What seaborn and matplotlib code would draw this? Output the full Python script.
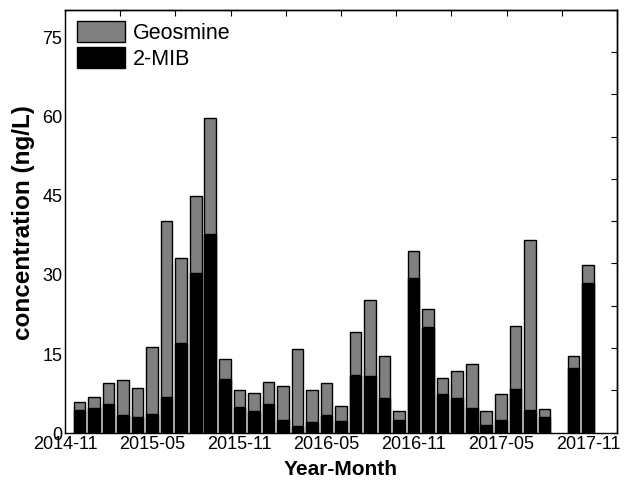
import numpy as np
import pandas as pd
import matplotlib
matplotlib.use("Agg")
import matplotlib.pyplot as plt
from matplotlib.patches import Patch
import seaborn as sns

# ---- data ----
months = ["2014-12", "2015-01", "2015-02", "2015-03", "2015-04", "2015-05",
          "2015-06", "2015-07", "2015-08", "2015-09", "2015-10", "2015-11",
          "2015-12", "2016-01", "2016-02", "2016-03", "2016-04", "2016-05",
          "2016-06", "2016-07", "2016-08", "2016-09", "2016-10", "2016-11",
          "2016-12", "2017-01", "2017-02", "2017-03", "2017-04", "2017-05",
          "2017-06", "2017-07", "2017-08", "2017-09", "2017-10", "2017-11"]
mib = [4.3, 4.6, 5.4, 3.4, 2.9, 3.5, 6.7, 17.0, 30.2, 37.5, 10.2, 4.9,
       4.0, 5.3, 2.4, 1.2, 1.9, 3.3, 2.2, 10.9, 10.7, 6.6, 2.4, 29.2,
       20.0, 7.3, 6.5, 4.7, 1.5, 2.4, 8.2, 4.3, 2.9, np.nan, 12.2, 28.3]
geosmine = [1.5, 2.2, 4.0, 6.5, 5.6, 12.7, 33.4, 16.1, 14.5, 22.0, 3.7, 3.1,
            3.5, 4.3, 6.4, 14.6, 6.2, 6.0, 2.8, 8.2, 14.4, 7.9, 1.7, 5.1,
            3.3, 3.0, 5.2, 8.2, 2.6, 4.9, 11.9, 32.1, 1.5, np.nan, 2.3, 3.3]
tick_labels = ["2014-11", "2015-05", "2015-11", "2016-05", "2016-11", "2017-05", "2017-11"]
series_names = ["Geosmine", "2-MIB"]
series_colors = ["#808080", "#000000"]

start = pd.Period("2014-11", freq="M")
pos = [(pd.Period(m, freq="M") - start).n for m in months]
tick_pos = [(pd.Period(m, freq="M") - start).n for m in tick_labels]
df = pd.DataFrame({"pos": pos, "mib": mib, "geosmine": geosmine})
df["total"] = df["mib"] + df["geosmine"]

# ---- style ----
sns.set_style("white")
plt.rcParams["font.family"] = ["Liberation Sans", "DejaVu Sans"]
plt.rcParams["axes.edgecolor"] = "black"
plt.rcParams["axes.linewidth"] = 1.0
plt.rcParams["text.color"] = "black"
plt.rcParams["axes.labelcolor"] = "black"
plt.rcParams["xtick.color"] = "black"
plt.rcParams["ytick.color"] = "black"

fig = plt.figure(figsize=(6.28, 4.85), dpi=100)
ax = fig.add_axes([65 / 628, 1 - 433.5 / 485, 552 / 628, 422.8 / 485])

sns.barplot(data=df, x="pos", y="total", native_scale=True, color=series_colors[0],
            saturation=1, edgecolor="black", linewidth=1.0, width=0.8,
            errorbar=None, ax=ax)
sns.barplot(data=df, x="pos", y="mib", native_scale=True, color=series_colors[1],
            saturation=1, edgecolor="black", linewidth=1.0, width=0.8,
            errorbar=None, ax=ax)

ax.set_xlim(0, 38)
ax.set_ylim(0, 80)
ax.set_xticks(tick_pos)
ax.set_xticklabels(tick_labels)
ax.set_yticks(np.arange(0, 76, 15))
ax.set_yticks(np.arange(7.5, 80, 15), minor=True)
ax.tick_params(axis="both", which="both", direction="in", length=4, width=0.8,
               labelsize=13, colors="black", labelcolor="black", pad=2)
ax.tick_params(axis="x", which="minor", bottom=False)

sec_x = ax.secondary_xaxis("top")
sec_x.set_xticks(np.linspace(0, 38, 11))
sec_x.tick_params(direction="in", length=4, width=0.8, labeltop=False)
sec_y = ax.secondary_yaxis("right")
sec_y.set_yticks(np.arange(0, 81, 8))
sec_y.tick_params(direction="in", length=4, width=0.8, labelright=False)

ax.set_xlabel("Year-Month", fontsize=15, fontweight="bold", labelpad=5, color="black")
ax.set_ylabel("concentration (ng/L)", fontsize=17.5, fontweight="bold", labelpad=5, color="black")

for s in ax.spines.values():
    s.set_visible(True)
    s.set_color("black")

handles = [Patch(facecolor=c, edgecolor="black", linewidth=1.0) for c in series_colors]
leg = ax.legend(handles, series_names, loc="upper left",
                bbox_to_anchor=(12 / 552, 1 - 11 / 422.8), frameon=False,
                fontsize=15.5, handlelength=2.25, handleheight=1.12, handletextpad=0.33,
                labelspacing=0.15, borderpad=0, borderaxespad=0)
for t in leg.get_texts():
    t.set_color("black")

fig.savefig("out.png", dpi=100)
